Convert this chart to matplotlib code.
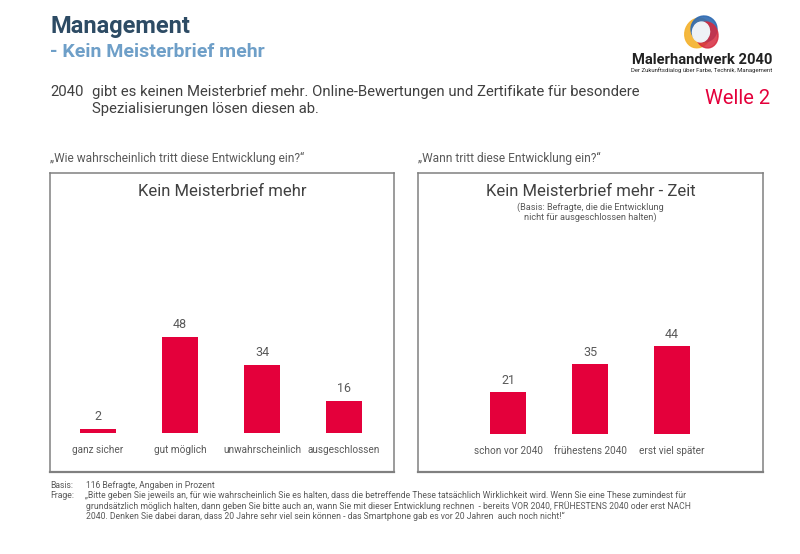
import matplotlib
matplotlib.use("Agg")
import matplotlib.pyplot as plt
from matplotlib.patches import Ellipse

# data
left_cats = ["ganz sicher", "gut möglich", "unwahrscheinlich", "ausgeschlossen"]
left_vals = [2, 48, 34, 16]
right_cats = ["schon vor 2040", "frühestens 2040", "erst viel später"]
right_vals = [21, 35, 44]

W, H = 800, 554
RED = "#E4003B"
GRAY = "#595959"

plt.rcParams["font.family"] = ["Roboto", "DejaVu Sans"]

fig = plt.figure(figsize=(W / 100, H / 100), dpi=100)
fig.patch.set_facecolor("white")


def px(x, y):
    return x / W, 1 - y / H


def box_axes(x0, y0, x1, y1):
    ax = fig.add_axes([x0 / W, 1 - y1 / H, (x1 - x0) / W, (y1 - y0) / H])
    for s in ax.spines.values():
        s.set_color("#808080")
        s.set_linewidth(1.1)
    ax.spines["bottom"].set_linewidth(1.6)
    ax.set_xticks([])
    ax.set_yticks([])
    return ax


def draw_bars(ax, cats, vals, x0, x1, first_center, base_y, top_y, bot_y):
    step = 82.0
    ax.set_xlim((x0 - first_center) / step, (x1 - first_center) / step)
    ax.set_ylim(-(bot_y - base_y) / 2.0, (base_y - top_y) / 2.0)
    pos = list(range(len(cats)))
    ax.bar(pos, vals, width=0.45, color=RED)
    for i, v in zip(pos, vals):
        ax.text(i, v + 6, f"{v}", ha="center", va="center", fontsize=9, color=GRAY)
    for i, c in zip(pos, cats):
        ax.text(i, -8.5, c, ha="center", va="center", fontsize=7.2, color=GRAY)


# left chart
axl = box_axes(50, 173, 394, 472)
draw_bars(axl, left_cats, left_vals, 50, 394, 98, 433, 173, 472)
axl.text(0.5, (472 - 192) / 299, "Kein Meisterbrief mehr", transform=axl.transAxes,
         ha="center", va="center", fontsize=12, color="#404040")

# right chart
axr = box_axes(418, 173, 763, 472)
draw_bars(axr, right_cats, right_vals, 418, 763, 508, 434, 173, 472)
axr.text(0.5, (472 - 192) / 299, "Kein Meisterbrief mehr - Zeit", transform=axr.transAxes,
         ha="center", va="center", fontsize=12, color="#404040")
axr.text(0.5, (472 - 207) / 299, "(Basis: Befragte, die die Entwicklung", transform=axr.transAxes,
         ha="center", va="center", fontsize=6.6, color=GRAY)
axr.text(0.5, (472 - 217) / 299, "nicht für ausgeschlossen halten)", transform=axr.transAxes,
         ha="center", va="center", fontsize=6.6, color=GRAY)

# header
fig.text(*px(50, 26), "Management", fontsize=17, fontweight="bold", color="#2D4B64", va="center")
fig.text(*px(50, 52), "- Kein Meisterbrief mehr", fontsize=14, fontweight="bold", color="#6E9FC8",
         va="center")
body = dict(fontsize=10.7, color="#404040", va="center")
fig.text(*px(50, 92), "2040", **body)
fig.text(*px(92, 92), "gibt es keinen Meisterbrief mehr. Online-Bewertungen und Zertifikate für besondere",
         **body)
fig.text(*px(92, 109), "Spezialisierungen lösen diesen ab.", **body)
fig.text(*px(705, 98), "Welle 2", fontsize=14.5, color=RED, va="center")

# question labels
fig.text(*px(50, 158), "„Wie wahrscheinlich tritt diese Entwicklung ein?“", fontsize=8.6,
         color=GRAY, va="center")
fig.text(*px(418, 158), "„Wann tritt diese Entwicklung ein?“", fontsize=8.6,
         color=GRAY, va="center")

# footer
foot = dict(fontsize=6.2, color=GRAY, va="center")
fig.text(*px(50, 485), "Basis:", **foot)
fig.text(*px(86, 485), "116 Befragte, Angaben in Prozent", **foot)
fig.text(*px(50, 496), "Frage:", **foot)
fig.text(*px(85, 496), "„Bitte geben Sie jeweils an, für wie wahrscheinlich Sie es halten, dass die betreffende These "
         "tatsächlich Wirklichkeit wird. Wenn Sie eine These zumindest für", **foot)
fig.text(*px(86, 506), "grundsätzlich möglich halten, dann geben Sie bitte auch an, wann Sie mit dieser Entwicklung "
         "rechnen  - bereits VOR 2040, FRÜHESTENS 2040 oder erst NACH", **foot)
fig.text(*px(86, 516), "2040. Denken Sie dabei daran, dass 20 Jahre sehr viel sein können - das Smartphone gab es vor "
         "20 Jahren  auch noch nicht!“", **foot)

# logo
axlogo = fig.add_axes([680 / W, 1 - 50 / H, 42 / W, 36 / H])
axlogo.set_xlim(0, 42)
axlogo.set_ylim(0, 36)
axlogo.axis("off")
axlogo.add_patch(Ellipse((18, 17), 26, 30, angle=-20, color="#F4B434", alpha=0.95))
axlogo.add_patch(Ellipse((24, 21), 26, 26, angle=30, color="#2E6BB3", alpha=0.9))
axlogo.add_patch(Ellipse((27, 15), 22, 26, angle=10, color="#D62A3E", alpha=0.85))
axlogo.add_patch(Ellipse((21, 18), 17, 20, angle=-10, color="#EEF2F6"))
fig.text(*px(702, 60), "Malerhandwerk 2040", fontsize=10.6, fontweight="bold", color="#222222",
         ha="center", va="center")
fig.text(*px(702, 70), "Der Zukunftsdialog über Farbe, Technik, Management", fontsize=4.3,
         color="#222222", ha="center", va="center")

fig.savefig("out.png", dpi=100, facecolor="white")
